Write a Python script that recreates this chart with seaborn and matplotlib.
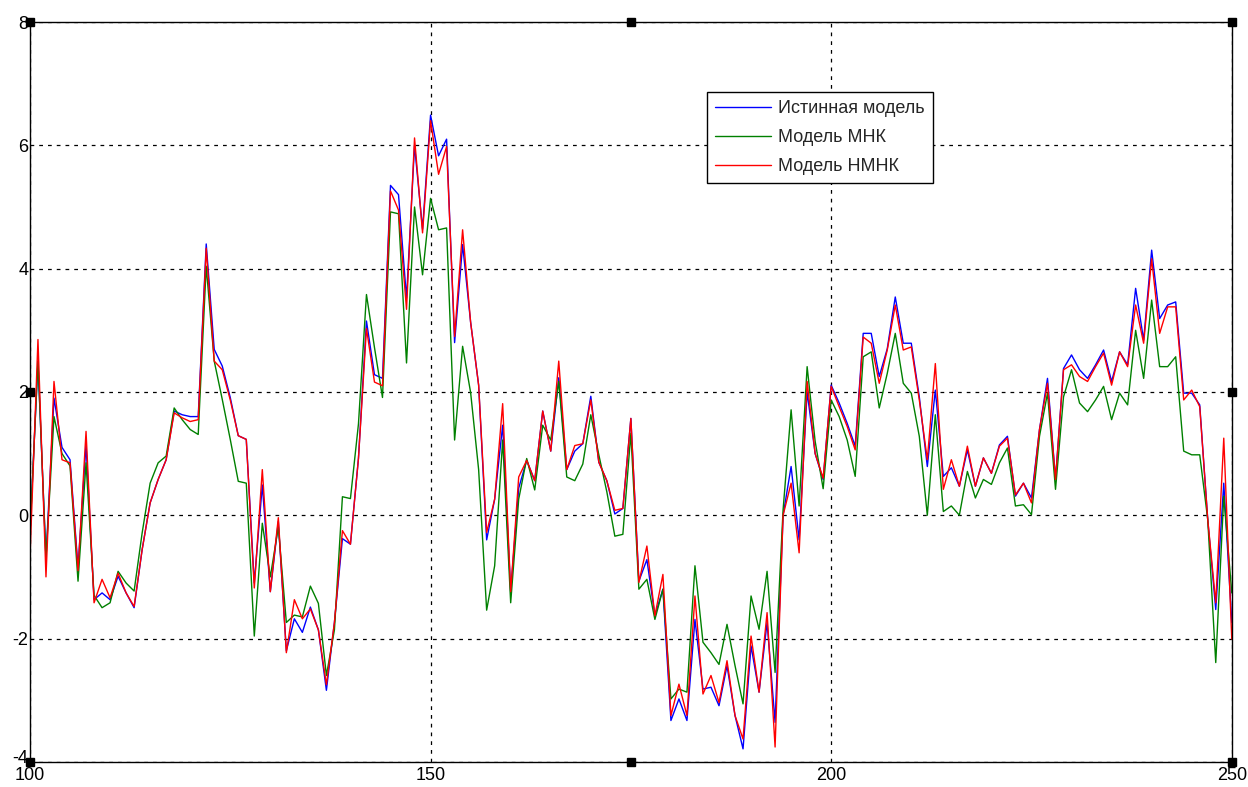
import matplotlib
matplotlib.use('Agg')
import numpy as np
import pandas as pd
import matplotlib.pyplot as plt
import matplotlib.transforms as mtransforms
import seaborn as sns

# отсчеты по оси X
x = list(range(100, 251))

# Истинная модель
true_model = [
    -0.3, 2.5, -0.7, 1.9, 1.1, 0.9, -0.85, 1.15, -1.37, -1.26,
    -1.37, -0.99, -1.26, -1.5, -0.56, 0.2, 0.58, 0.9, 1.69, 1.63,
    1.6, 1.6, 4.4, 2.69, 2.42, 1.91, 1.29, 1.23, -1.1, 0.49,
    -1.24, -0.1, -2.2, -1.68, -1.9, -1.49, -1.86, -2.84, -1.74, -0.38,
    -0.47, 0.92, 3.15, 2.28, 2.22, 5.35, 5.2, 3.52, 6.0, 4.64,
    6.49, 5.83, 6.1, 2.8, 4.39, 3.13, 2.11, -0.4, 0.26, 1.46,
    -1.24, 0.44, 0.89, 0.56, 1.69, 1.04, 2.23, 0.74, 1.04, 1.16,
    1.93, 0.86, 0.56, 0.02, 0.11, 1.57, -1.07, -0.72, -1.63, -1.2,
    -3.33, -2.98, -3.33, -1.69, -2.82, -2.79, -3.09, -2.44, -3.25, -3.79,
    -2.12, -2.87, -1.74, -3.36, 0.0, 0.79, -0.4, 2.0, 1.0, 0.58,
    2.11, 1.82, 1.49, 1.12, 2.95, 2.95, 2.25, 2.7, 3.54, 2.79,
    2.79, 1.92, 0.79, 2.03, 0.63, 0.77, 0.47, 1.06, 0.47, 0.93,
    0.68, 1.14, 1.28, 0.31, 0.52, 0.28, 1.39, 2.22, 0.58, 2.38,
    2.6, 2.36, 2.22, 2.44, 2.68, 2.17, 2.65, 2.44, 3.68, 2.84,
    4.3, 3.19, 3.41, 3.46, 1.98, 1.98, 1.79, -0.07, -1.53, 0.52,
    -1.74,
]

# Модель МНК
mnk_model = [
    -0.3, 2.5, -0.7, 1.6, 1.0, 0.8, -1.07, 0.85, -1.3, -1.5,
    -1.42, -0.91, -1.1, -1.23, -0.29, 0.52, 0.85, 0.96, 1.74, 1.55,
    1.39, 1.31, 4.04, 2.5, 1.88, 1.23, 0.55, 0.52, -1.96, -0.13,
    -1.0, -0.19, -1.74, -1.62, -1.65, -1.15, -1.43, -2.6, -1.86, 0.3,
    0.27, 1.48, 3.58, 2.72, 1.91, 4.92, 4.89, 2.47, 5.0, 3.9,
    5.14, 4.63, 4.66, 1.22, 2.74, 1.99, 0.74, -1.54, -0.82, 1.22,
    -1.42, 0.26, 0.92, 0.41, 1.46, 1.22, 2.17, 0.62, 0.56, 0.83,
    1.63, 0.98, 0.38, -0.34, -0.31, 1.33, -1.2, -1.04, -1.69, -1.2,
    -2.98, -2.82, -2.87, -0.82, -2.06, -2.23, -2.42, -1.77, -2.44, -3.06,
    -1.31, -1.85, -0.91, -2.55, 0.09, 1.71, 0.15, 2.41, 1.2, 0.43,
    1.87, 1.6, 1.22, 0.63, 2.57, 2.65, 1.74, 2.3, 2.95, 2.14,
    1.98, 1.28, 0.0, 1.63, 0.06, 0.15, 0.0, 0.71, 0.28, 0.58,
    0.5, 0.85, 1.09, 0.15, 0.17, 0.01, 1.28, 1.98, 0.42, 1.92,
    2.36, 1.82, 1.68, 1.87, 2.09, 1.55, 1.98, 1.79, 3.0, 2.22,
    3.49, 2.41, 2.41, 2.57, 1.04, 0.98, 0.98, -0.07, -2.39, 0.31,
    -1.26,
]

# Модель НМНК
nmnk_model = [
    -0.7, 2.85, -1.0, 2.17, 0.9, 0.85, -0.9, 1.36, -1.42, -1.04,
    -1.34, -0.94, -1.26, -1.48, -0.56, 0.2, 0.58, 0.9, 1.66, 1.58,
    1.52, 1.55, 4.33, 2.5, 2.36, 1.87, 1.29, 1.23, -1.18, 0.74,
    -1.24, -0.04, -2.23, -1.37, -1.68, -1.52, -1.86, -2.75, -1.74, -0.25,
    -0.47, 0.92, 3.03, 2.16, 2.1, 5.26, 4.95, 3.34, 6.12, 4.58,
    6.4, 5.53, 5.98, 2.9, 4.63, 3.13, 2.11, -0.28, 0.26, 1.81,
    -1.24, 0.62, 0.89, 0.56, 1.69, 1.04, 2.5, 0.74, 1.13, 1.16,
    1.87, 0.86, 0.56, 0.08, 0.11, 1.57, -1.09, -0.5, -1.63, -0.96,
    -3.25, -2.74, -3.25, -1.31, -2.9, -2.6, -3.04, -2.36, -3.25, -3.63,
    -1.96, -2.87, -1.58, -3.76, 0.0, 0.52, -0.61, 2.17, 1.0, 0.6,
    2.09, 1.76, 1.44, 1.06, 2.89, 2.79, 2.14, 2.68, 3.41, 2.68,
    2.73, 1.87, 0.9, 2.46, 0.42, 0.9, 0.47, 1.12, 0.47, 0.93,
    0.68, 1.12, 1.25, 0.33, 0.52, 0.2, 1.39, 2.14, 0.58, 2.36,
    2.44, 2.25, 2.17, 2.41, 2.63, 2.11, 2.65, 2.41, 3.41, 2.79,
    4.16, 2.95, 3.38, 3.38, 1.87, 2.03, 1.76, -0.07, -1.42, 1.25,
    -2.01,
]

labels = ['Истинная модель', 'Модель МНК', 'Модель НМНК']
colors = ['#0000ff', '#008000', '#ff0000']

df = pd.DataFrame({
    'x': x * 3,
    'y': true_model + mnk_model + nmnk_model,
    'model': [labels[0]] * len(x) + [labels[1]] * len(x) + [labels[2]] * len(x),
})

sns.set_style('white')
plt.rcParams['font.family'] = ['Liberation Sans', 'DejaVu Sans']
plt.rcParams['axes.unicode_minus'] = False

fig = plt.figure(figsize=(12.48, 7.87), dpi=100)
ax = fig.add_axes([0.024, 0.032, 0.963, 0.940])

sns.lineplot(data=df, x='x', y='y', hue='model', hue_order=labels,
             palette=colors, linewidth=1.0, estimator=None, errorbar=None,
             sort=False, ax=ax)

ax.set_xlim(100, 250)
ax.set_ylim(-4, 8)
ax.set_xticks([100, 150, 200, 250])
ax.set_yticks([-4, -2, 0, 2, 4, 6, 8])
ax.set_xlabel('')
ax.set_ylabel('')
ax.grid(True, color='black', linestyle=(0, (3, 4)), linewidth=0.9)
ax.tick_params(direction='in', length=5, labelsize=13, pad=1, colors='black')
ax.tick_params(axis='x', pad=4)
for s in ax.spines.values():
    s.set_color('black')
    s.set_linewidth(1.0)

# нижнюю подпись оси Y чуть приподнять, чтобы не налезала на "100"
fig.canvas.draw()
lbl = ax.get_yticklabels()[0]
lbl.set_transform(lbl.get_transform() + mtransforms.ScaledTranslation(0, 4 / 72, fig.dpi_scale_trans))

# маркеры выделения осей (как в редакторе графиков MATLAB)
ax.plot([0, 0.5, 1, 0, 1, 0, 0.5, 1], [1, 1, 1, 0.5, 0.5, 0, 0, 0], 's',
        color='black', ms=6, transform=ax.transAxes, clip_on=False, zorder=5)

leg = ax.legend(loc='upper left', bbox_to_anchor=(0.563, 0.905), fontsize=13,
                frameon=True, fancybox=False, edgecolor='black', framealpha=1,
                handlelength=3.1, handletextpad=0.4, labelspacing=0.65,
                borderpad=0.45, borderaxespad=0)
leg.get_frame().set_linewidth(1.0)

fig.savefig('out.png', dpi=100, facecolor='white')
